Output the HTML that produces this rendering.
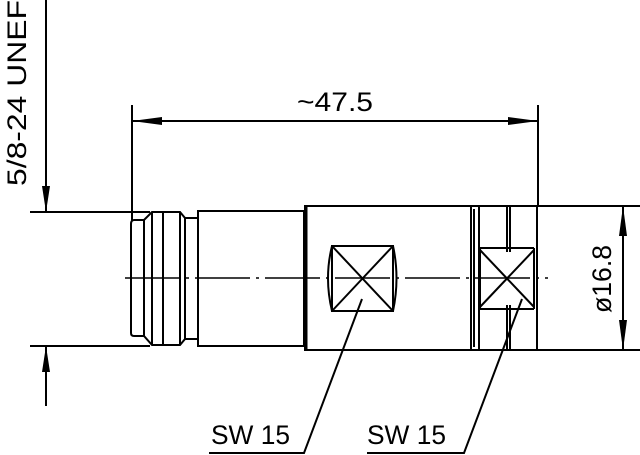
<!DOCTYPE html>
<html><head><style>body{margin:0;background:#fff}svg{display:block}</style></head><body>
<svg width="640" height="455" viewBox="0 0 640 455" xmlns="http://www.w3.org/2000/svg" font-family="Liberation Sans, sans-serif">
<g stroke="#000" stroke-width="2" fill="none">
<line x1="30" y1="212" x2="150" y2="212"/>
<line x1="30" y1="346" x2="150" y2="346"/>
<line x1="46" y1="0" x2="46" y2="212"/>
<line x1="46" y1="346" x2="46" y2="406"/>
<line x1="132" y1="105" x2="132" y2="220"/>
<line x1="538" y1="105" x2="538" y2="206"/>
<line x1="132" y1="121" x2="538" y2="121"/>
<path d="M140 220 L134 220 Q131 220 131 224 L131 333 Q131 336 134 336 L144 336 L152 345 L180 345 L185 339 L185 218 L180 212 L152 212 L144 220 Z"/>
<line x1="144" y1="220" x2="144" y2="336"/>
<line x1="152" y1="212" x2="152" y2="345"/>
<line x1="163" y1="212" x2="163" y2="345"/>
<line x1="180" y1="212" x2="180" y2="345"/>
<line x1="185" y1="218" x2="198" y2="218"/>
<line x1="185" y1="339" x2="198" y2="339"/>
<rect x="198" y="211" width="106" height="135"/>
<rect x="305" y="206" width="166" height="144"/>
<line x1="306" y1="206" x2="306" y2="350" stroke-width="3"/>
<line x1="471" y1="206" x2="471" y2="350"/>
<line x1="474" y1="209" x2="474" y2="347"/>
<line x1="479" y1="206" x2="479" y2="350"/>
<line x1="471" y1="206" x2="538" y2="206"/>
<line x1="471" y1="350" x2="538" y2="350"/>
<line x1="537" y1="206" x2="537" y2="350"/>
<line x1="507" y1="206" x2="507" y2="252"/>
<line x1="510" y1="206" x2="510" y2="252"/>
<line x1="507" y1="305" x2="507" y2="350"/>
<line x1="510" y1="305" x2="510" y2="350"/>
<rect x="332" y="246" width="61" height="65"/>
<path d="M332 246 Q324 278 332 311 M393 246 Q400 278 393 311"/>
<line x1="332" y1="246" x2="393" y2="311"/>
<line x1="393" y1="246" x2="332" y2="311"/>
<path d="M480 248 L534 248 M480 309 L534 309 M480 248 L480 309 M534 248 L534 309"/>
<line x1="480" y1="250" x2="534" y2="307"/>
<line x1="534" y1="250" x2="480" y2="307"/>
<line x1="538" y1="206" x2="640" y2="206"/>
<line x1="538" y1="350" x2="640" y2="350"/>
<line x1="623" y1="206" x2="623" y2="350"/>
<line x1="125" y1="278" x2="548" y2="278" stroke-width="1.5" stroke-dasharray="55,6,3,6"/>
<polyline points="362,299 304,453 209,453"/>
<polyline points="522,299 464,453 367,453"/>
</g>
<g fill="#000">
<polygon points="46,212 42,186 50,186"/>
<polygon points="46,346 42,372 50,372"/>
<polygon points="132,121 162,117 162,125"/>
<polygon points="538,121 508,117 508,125"/>
<polygon points="623,206 619,236 627,236"/>
<polygon points="623,350 619,320 627,320"/>
</g>
<g font-size="27" fill="#000">
<text x="297" y="111" textLength="76" lengthAdjust="spacingAndGlyphs">~47.5</text>
<text x="211" y="444" textLength="79" lengthAdjust="spacingAndGlyphs">SW 15</text>
<text x="367" y="444" textLength="79" lengthAdjust="spacingAndGlyphs">SW 15</text>
<text transform="translate(26,186) rotate(-90)" textLength="186" lengthAdjust="spacingAndGlyphs">5/8-24 UNEF</text>
<text transform="translate(611,313) rotate(-90)" textLength="68" lengthAdjust="spacingAndGlyphs">ø16.8</text>
</g>
</svg>
</body></html>
